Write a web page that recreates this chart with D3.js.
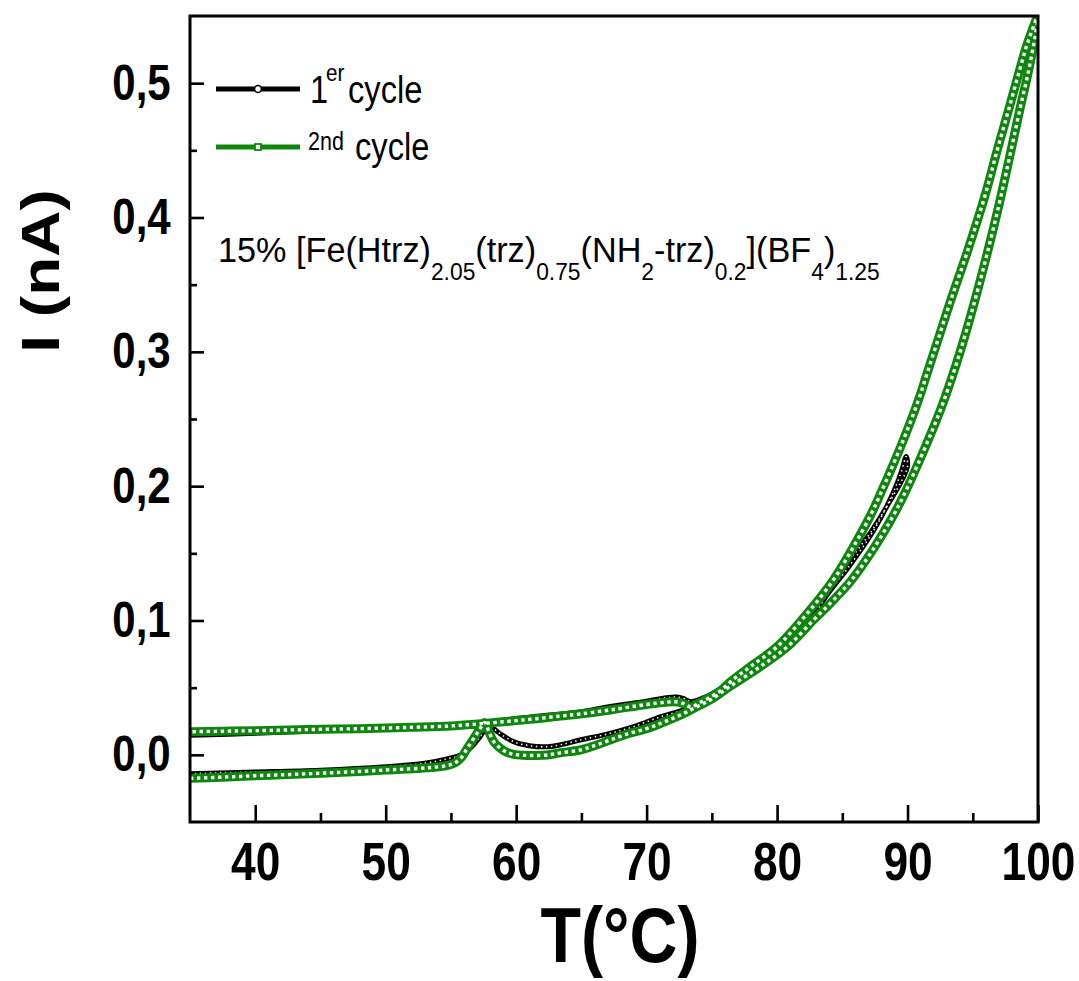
<!DOCTYPE html>
<html>
<head>
<meta charset="utf-8">
<script src="https://cdn.jsdelivr.net/npm/d3@7"></script>
<style>
  html, body { margin: 0; padding: 0; background: #ffffff; }
  svg { display: block; }
</style>
</head>
<body>
<svg id="chart" width="1079" height="981"></svg>
<script>
// ---------------- DATA ----------------
// 2nd cycle, heating branch (T in °C, I in nA)
const cycle2HeatT = [35.0, 37.5, 40.0, 42.5, 45.0, 47.5, 50.0, 52.0, 53.5, 54.7, 55.3, 55.8, 56.2, 56.6, 57.0, 57.3, 57.6,
  57.9, 58.3, 58.8, 59.3, 59.8, 60.5, 61.5, 62.4, 63.4, 64.9, 66.0, 67.2, 68.5, 70.0, 71.1, 72.1, 73.1, 74.0, 74.9,
  76.4, 78.7, 80.8, 82.8, 84.3, 85.7, 87.3, 88.9, 89.7, 91.0, 92.0, 92.8, 94.0, 95.1, 96.1, 97.0, 97.8, 98.6, 99.4, 100.0];
const cycle2HeatI = [-0.0175, -0.0166, -0.0156, -0.0147, -0.0137, -0.0126, -0.0113, -0.0104, -0.0094, -0.0080, -0.0060, -0.0020, 0.0040, 0.0100, 0.0160, 0.0205, 0.0240,
  0.0175, 0.0095, 0.0048, 0.0018, 0.0004, -0.0003, -0.0005, -0.0001, 0.0015, 0.0036, 0.0068, 0.0110, 0.0155, 0.0195, 0.0235, 0.0275, 0.0320, 0.0365, 0.0410,
  0.0510, 0.0656, 0.0805, 0.1004, 0.1150, 0.1300, 0.1520, 0.1780, 0.1930, 0.2210, 0.2440, 0.2640, 0.2990, 0.3360, 0.3730, 0.4090, 0.4440, 0.4800, 0.5150, 0.5500];
// 2nd cycle, cooling branch
const cycle2CoolT = [100.0, 99.5, 99.1, 98.6, 97.8, 96.9, 95.9, 94.6, 93.3, 92.3, 91.5, 90.8, 89.5, 88.0, 87.2, 85.8, 84.3, 82.2,
  80.0, 78.0, 76.5, 75.7, 74.8, 74.0, 73.4, 73.0, 72.4, 71.5, 70.0, 67.2, 64.9, 63.4, 61.5, 60.0, 58.5, 57.3, 55.0, 52.0, 48.0, 44.0, 40.0, 37.5, 35.0];
const cycle2CoolI = [0.5510, 0.5380, 0.5270, 0.5100, 0.4820, 0.4510, 0.4150, 0.3750, 0.3380, 0.3080, 0.2840, 0.2630, 0.2300, 0.1960, 0.1790, 0.1540, 0.1300, 0.1040,
  0.0805, 0.0660, 0.0550, 0.0480, 0.0425, 0.0385, 0.0355, 0.0375, 0.0393, 0.0392, 0.0375, 0.0334, 0.0304, 0.0289, 0.0268, 0.0255, 0.0242, 0.0232, 0.0215, 0.0205, 0.0195, 0.0188, 0.0180, 0.0176, 0.0172];
// 1st cycle, heating branch (up to 90 °C)
const cycle1HeatT = [35.0, 40.0, 45.0, 50.0, 53.0, 54.7, 55.8, 56.6, 57.2, 57.8, 58.2, 58.8, 59.8, 61.0, 62.4, 63.4, 64.9, 67.2, 69.0, 71.1,
  73.0, 75.0, 77.0, 78.7, 80.0, 82.0, 83.9, 85.5, 87.4, 88.8, 89.5, 89.9];
const cycle1HeatI = [-0.0140, -0.0128, -0.0114, -0.0088, -0.0062, -0.0030, 0.0000, 0.0060, 0.0130, 0.0210, 0.0200, 0.0155, 0.0098, 0.0068, 0.0060, 0.0075, 0.0110, 0.0160, 0.0210, 0.0284,
  0.0340, 0.0440, 0.0560, 0.0660, 0.0757, 0.0920, 0.1200, 0.1400, 0.1670, 0.1930, 0.2100, 0.2220];
// 1st cycle, cooling branch
const cycle1CoolT = [89.9, 90.0, 89.6, 88.6, 87.2, 85.0, 83.5, 82.0, 80.0, 78.0, 76.0, 74.5, 73.4, 72.8, 72.3, 71.5, 70.0, 67.2, 65.0, 63.0,
  60.0, 57.5, 55.0, 50.0, 45.0, 40.0, 35.0];
const cycle1CoolI = [0.2220, 0.2150, 0.2050, 0.1880, 0.1660, 0.1380, 0.1180, 0.0980, 0.0780, 0.0630, 0.0510, 0.0430, 0.0396, 0.0420, 0.0430, 0.0425, 0.0400, 0.0360, 0.0320, 0.0300,
  0.0270, 0.0240, 0.0220, 0.0200, 0.0180, 0.0160, 0.0145];

const xMajorTicks = [40, 50, 60, 70, 80, 90, 100];
const xMinorTicks = [45, 55, 65, 75, 85, 95];
const yMajorTicks = [0.0, 0.1, 0.2, 0.3, 0.4, 0.5];
const yMinorTicks = [0.05, 0.15, 0.25, 0.35, 0.45];
const xTickLabels = ["40", "50", "60", "70", "80", "90", "100"];
const yTickLabels = ["0,0", "0,1", "0,2", "0,3", "0,4", "0,5"];
const seriesNames = ["1", "er", "cycle", "2nd", "cycle"];
const xTitle = "T(°C)";
const yTitle = "I (nA)";
const annotationParts = [["15% [Fe(Htrz)", 0], ["2.05", 1], ["(trz)", 0], ["0.75", 1], ["(NH", 0], ["2", 1],
  ["-trz)", 0], ["0.2", 1], ["](BF", 0], ["4", 1], [")", 0], ["1.25", 1]];

// ---------------- LAYOUT ----------------
const plot = { left: 190, right: 1038, top: 16, bottom: 822 };
const GREEN = "#0f870f";
const FONT = "'Liberation Sans', Arial, Helvetica, sans-serif";

const svg = d3.select("#chart");
svg.append("rect").attr("width", 1079).attr("height", 981).attr("fill", "#fff");

const x = d3.scaleLinear().domain([35, 100]).range([plot.left, plot.right]);
const y = d3.scaleLinear().domain([-0.05, 0.55]).range([plot.bottom, plot.top]);

svg.append("clipPath").attr("id", "clip").append("rect")
  .attr("x", plot.left).attr("y", plot.top)
  .attr("width", plot.right - plot.left).attr("height", plot.bottom - plot.top);

const zip = (T, I) => T.map((t, i) => [t, I[i]]);
const line = d3.line().x(d => x(d[0])).y(d => y(d[1])).curve(d3.curveCatmullRom.alpha(0.5));

const data1 = zip(cycle1HeatT, cycle1HeatI).concat(zip(cycle1CoolT, cycle1CoolI).slice(1));
const data2 = zip(cycle2HeatT, cycle2HeatI).concat(zip(cycle2CoolT, cycle2CoolI).slice(1));

const plotG = svg.append("g").attr("clip-path", "url(#clip)");

// 1st cycle: black line with small open circle markers
plotG.append("path").datum(data1).attr("d", line)
  .attr("fill", "none").attr("stroke", "#000").attr("stroke-width", 5)
  .attr("stroke-linejoin", "round").attr("stroke-linecap", "round");
plotG.append("path").datum(data1).attr("d", line)
  .attr("fill", "none").attr("stroke", "#fff").attr("stroke-width", 1.6)
  .attr("stroke-dasharray", "1.4 3.6");

// 2nd cycle: green chain of open square markers
plotG.append("path").datum(data2).attr("d", line)
  .attr("fill", "none").attr("stroke", GREEN).attr("stroke-width", 9)
  .attr("stroke-linejoin", "round");
plotG.append("path").datum(data2).attr("d", line)
  .attr("fill", "none").attr("stroke", "#fff").attr("stroke-width", 3.4)
  .attr("stroke-dasharray", "3.4 3.6");

// ---------------- AXES ----------------
const xAxisMajor = d3.axisBottom(x).tickValues(xMajorTicks).tickSizeInner(-17).tickSizeOuter(0)
  .tickPadding(20).tickFormat((d, i) => xTickLabels[i]);
const xAxisMinor = d3.axisBottom(x).tickValues(xMinorTicks).tickSizeInner(-9).tickSizeOuter(0).tickFormat("");
const yAxisMajor = d3.axisLeft(y).tickValues(yMajorTicks).tickSizeInner(-14).tickSizeOuter(0)
  .tickPadding(23).tickFormat((d, i) => yTickLabels[i]);
const yAxisMinor = d3.axisLeft(y).tickValues(yMinorTicks).tickSizeInner(-7).tickSizeOuter(0).tickFormat("");

function styleAxis(g) {
  g.select(".domain").remove();
  g.selectAll(".tick line").attr("stroke", "#000").attr("stroke-width", 2.6);
}
const gx = svg.append("g").attr("transform", `translate(0,${plot.bottom})`).call(xAxisMajor).call(styleAxis);
svg.append("g").attr("transform", `translate(0,${plot.bottom})`).call(xAxisMinor).call(styleAxis);
const gy = svg.append("g").attr("transform", `translate(${plot.left},0)`).call(yAxisMajor).call(styleAxis);
svg.append("g").attr("transform", `translate(${plot.left},0)`).call(yAxisMinor).call(styleAxis);

gx.selectAll(".tick text").attr("fill", "#000").attr("font-family", FONT).attr("font-weight", "bold")
  .attr("font-size", 54).attr("transform", "scale(0.82,1)");
gy.selectAll(".tick text").attr("fill", "#000").attr("font-family", FONT).attr("font-weight", "bold")
  .attr("font-size", 50).attr("transform", "scale(0.84,1)");

// frame
svg.append("rect").attr("x", plot.left).attr("y", plot.top)
  .attr("width", plot.right - plot.left).attr("height", plot.bottom - plot.top)
  .attr("fill", "none").attr("stroke", "#000").attr("stroke-width", 3);

// ---------------- TEXT HELPERS ----------------
function squeezedText(px, py, str, size, weight, sx, anchor) {
  const g = svg.append("g").attr("transform", `translate(${px},${py}) scale(${sx},1)`);
  return g.append("text").attr("x", 0).attr("y", 0).attr("font-family", FONT)
    .attr("font-size", size).attr("font-weight", weight).attr("fill", "#000")
    .attr("text-anchor", anchor || "start").text(str);
}

// axis titles
squeezedText(620, 962, xTitle, 78, "bold", 0.85, "middle");
{
  const g = svg.append("g").attr("transform", `translate(59,271) scale(0.85,1) rotate(-90)`);
  g.append("text").attr("font-family", FONT).attr("font-size", 64).attr("font-weight", "bold")
    .attr("text-anchor", "middle").attr("fill", "#000").text(yTitle);
}

// ---------------- LEGEND ----------------
const legend = svg.append("g");
legend.append("line").attr("x1", 216).attr("x2", 300).attr("y1", 89).attr("y2", 89)
  .attr("stroke", "#000").attr("stroke-width", 5);
legend.append("circle").attr("cx", 258).attr("cy", 89).attr("r", 3.4)
  .attr("fill", "#fff").attr("stroke", "#000").attr("stroke-width", 1.5);
legend.append("line").attr("x1", 216).attr("x2", 300).attr("y1", 147).attr("y2", 147)
  .attr("stroke", GREEN).attr("stroke-width", 5);
legend.append("rect").attr("x", 255).attr("y", 144).attr("width", 6).attr("height", 6)
  .attr("fill", "#fff").attr("stroke", GREEN).attr("stroke-width", 1.8);

squeezedText(310, 103, seriesNames[0], 38, "normal", 0.86);
squeezedText(326, 81, seriesNames[1], 24, "normal", 0.86);
squeezedText(348, 103, seriesNames[2], 38, "normal", 0.86);
squeezedText(308, 150, seriesNames[3], 25, "normal", 0.86);
squeezedText(355, 160, seriesNames[4], 38, "normal", 0.86);

// ---------------- ANNOTATION ----------------
{
  const g = svg.append("g");
  const t = g.append("text").attr("x", 0).attr("y", 0).attr("font-family", FONT).attr("fill", "#000");
  let prev = 0;
  annotationParts.forEach(([s, sub]) => {
    const shift = sub ? 18 : 0;
    t.append("tspan").attr("dy", shift - prev).attr("font-size", sub ? 24 : 36).text(s);
    prev = shift;
  });
  const w = t.node().getComputedTextLength();
  const sx = 662 / w;
  g.attr("transform", `translate(218,262) scale(${sx},1)`);
}
</script>
</body>
</html>
